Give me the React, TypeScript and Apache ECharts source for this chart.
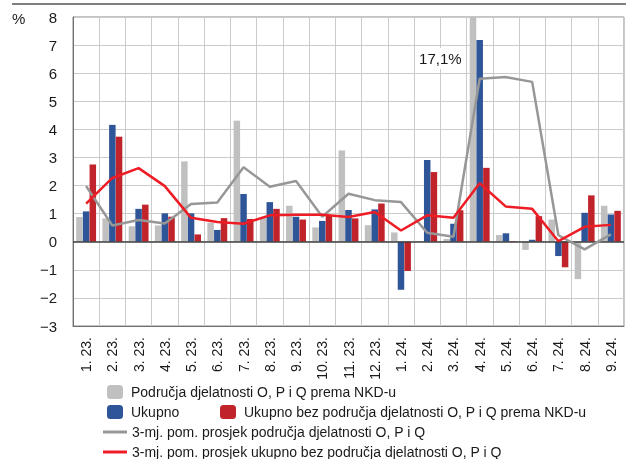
import React, { useEffect, useRef } from "react";
import * as echarts from "echarts";

const categories = [
  "1. 23.", "2. 23.", "3. 23.", "4. 23.", "5. 23.", "6. 23.", "7. 23.", "8. 23.", "9. 23.", "10. 23.", "11. 23.", "12. 23.",
  "1. 24.", "2. 24.", "3. 24.", "4. 24.", "5. 24.", "6. 24.", "7. 24.", "8. 24.", "9. 24.",
];
const opqBars = [0.88, 0.83, 0.55, 0.58, 2.86, 0.68, 4.31, 0.85, 1.28, 0.51, 3.25, 0.59, 0.33, 0.0, 0.1, 17.1, 0.24, -0.29, 0.79, -1.33, 1.28];
const totalBars = [1.08, 4.16, 1.17, 1.01, 1.01, 0.42, 1.7, 1.41, 0.89, 0.74, 1.13, 1.15, -1.71, 2.91, 0.64, 7.18, 0.3, 0.07, -0.51, 1.03, 0.97];
const exOpqBars = [2.75, 3.74, 1.32, 0.89, 0.26, 0.84, 0.81, 1.17, 0.79, 0.94, 0.83, 1.36, -1.04, 2.48, 1.12, 2.63, 0.02, 0.91, -0.91, 1.65, 1.1];
const opqAvg = [1.98, 0.58, 0.77, 0.65, 1.34, 1.4, 2.65, 1.96, 2.16, 0.89, 1.71, 1.48, 1.41, 0.32, 0.18, 5.8, 5.86, 5.69, 0.23, -0.27, 0.26];
const exOpqAvg = [1.36, 2.27, 2.62, 1.98, 0.85, 0.7, 0.64, 0.94, 0.96, 0.96, 0.88, 1.06, 0.4, 0.94, 0.85, 2.08, 1.25, 1.17, 0.02, 0.53, 0.6];
const yTicks = { min: -3, max: 8, interval: 1 };
const annotation = { text: "17,1%", between: ["2. 24.", "3. 24."], value: 6.52 };

const names = {
  opq: "Područja djelatnosti O, P i Q prema NKD-u",
  total: "Ukupno",
  exOpq: "Ukupno bez područja djelatnosti O, P i Q prema NKD-u",
  opqAvg: "3-mj. pom. prosjek područja djelatnosti O, P i Q",
  exOpqAvg: "3-mj. pom. prosjek ukupno bez područja djelatnosti O, P i Q",
};

const FONT = '"Liberation Sans", Arial, sans-serif';
const C_GRAY = "#c0c0c0";
const C_BLUE = "#2e5597";
const C_RED = "#c1232b";
const C_GRAYLINE = "#979797";
const C_REDLINE = "#ee1c25";

export default function App() {
  const ref = useRef<HTMLDivElement>(null);
  useEffect(() => {
    if (!ref.current) return;
    const chart = echarts.init(ref.current, null, { renderer: "svg" });
    const legendItem = (name: string, left: number, top: number, w: number, h: number, extra: any = {}) => ({
      data: [name],
      left,
      top,
      orient: "horizontal",
      padding: 0,
      itemWidth: w,
      itemHeight: h,
      itemGap: 0,
      selectedMode: false,
      textStyle: { fontFamily: FONT, fontSize: 14, color: "#1a1a1a", lineHeight: 16, padding: [0, 0, 0, 3] },
      ...extra,
    });
    const barCommon = { type: "bar", barWidth: 6.5, barGap: "3%", clip: true };
    const staticGraphics = [
      { type: "line", shape: { x1: 12, y1: 4, x2: 626, y2: 4 }, style: { stroke: "#555", lineWidth: 1.5 } },
      { type: "text", left: 12, top: 11, style: { text: "%", font: `15px ${FONT}`, fill: "#1a1a1a" } },
    ];
    chart.setOption({
      animation: false,
      grid: { left: 73, right: 2, top: 17, bottom: 133, show: true, borderColor: "#8a8a8a", borderWidth: 1 },
      legend: [
        legendItem(names.opq, 107, 384, 16, 14),
        legendItem(names.total, 107, 404, 16, 14),
        legendItem(names.exOpq, 220, 404, 16, 14),
        legendItem(names.opqAvg, 103, 424, 24, 3, {
          icon: "rect",
          itemStyle: { color: C_GRAYLINE },
          lineStyle: { width: 0, opacity: 0 },
          textStyle: { fontFamily: FONT, fontSize: 14, color: "#1a1a1a", lineHeight: 16, padding: [0, 0, 0, 0] },
        }),
        legendItem(names.exOpqAvg, 103, 444, 24, 3, {
          icon: "rect",
          itemStyle: { color: C_REDLINE },
          lineStyle: { width: 0, opacity: 0 },
          textStyle: { fontFamily: FONT, fontSize: 14, color: "#1a1a1a", lineHeight: 16, padding: [0, 0, 0, 0] },
        }),
      ],
      xAxis: {
        type: "category",
        data: categories,
        boundaryGap: true,
        axisLine: { onZero: false, lineStyle: { color: "#707070", width: 1 } },
        axisTick: { show: false },
        splitLine: { show: true, lineStyle: { color: "#cbcbcb", width: 1 } },
        axisLabel: { rotate: 90, margin: 11, fontFamily: FONT, fontSize: 14, color: "#1a1a1a", interval: 0 },
      },
      yAxis: {
        type: "value",
        min: yTicks.min,
        max: yTicks.max,
        interval: yTicks.interval,
        axisLine: { show: true, lineStyle: { color: "#707070", width: 1 } },
        axisTick: { show: false },
        splitLine: { show: true, lineStyle: { color: "#cbcbcb", width: 1 } },
        axisLabel: {
          margin: 16,
          fontFamily: FONT,
          fontSize: 15,
          color: "#1a1a1a",
          formatter: (v: number) => String(v).replace("-", "\u2212"),
        },
      },
      series: [
        {
          ...barCommon,
          name: names.opq,
          data: opqBars,
          itemStyle: { color: C_GRAY },
          markLine: {
            silent: true,
            symbol: "none",
            label: { show: false },
            lineStyle: { color: "#404040", width: 1.5, type: "solid" },
            data: [{ yAxis: 0 }],
          },
        },
        { ...barCommon, name: names.total, data: totalBars, itemStyle: { color: C_BLUE } },
        { ...barCommon, name: names.exOpq, data: exOpqBars, itemStyle: { color: C_RED } },
        {
          type: "line",
          name: names.opqAvg,
          data: opqAvg,
          symbol: "none",
          z: 5,
          lineStyle: { color: C_GRAYLINE, width: 2.5 },
          itemStyle: { color: C_GRAYLINE },
        },
        {
          type: "line",
          name: names.exOpqAvg,
          data: exOpqAvg,
          symbol: "none",
          z: 6,
          lineStyle: { color: C_REDLINE, width: 2.5 },
          itemStyle: { color: C_REDLINE },
        },
      ],
      graphic: staticGraphics,
    });
    const p1 = chart.convertToPixel({ xAxisIndex: 0, yAxisIndex: 0 }, [annotation.between[0], annotation.value]) as number[];
    const p2 = chart.convertToPixel({ xAxisIndex: 0, yAxisIndex: 0 }, [annotation.between[1], annotation.value]) as number[];
    const cx = (p1[0] + p2[0]) / 2;
    chart.setOption({
      graphic: [
        ...staticGraphics,
        {
          type: "text",
          x: cx,
          y: p1[1],
          z: 10,
          style: {
            text: annotation.text,
            font: `15px ${FONT}`,
            fill: "#1a1a1a",
            align: "center",
            verticalAlign: "middle",
            backgroundColor: "#fff",
            padding: [3, 3, 3, 3],
          },
        },
      ],
    });
    return () => chart.dispose();
  }, []);
  return <div ref={ref} style={{ position: "fixed", left: 0, top: 0, width: 626, height: 459 }} />;
}
